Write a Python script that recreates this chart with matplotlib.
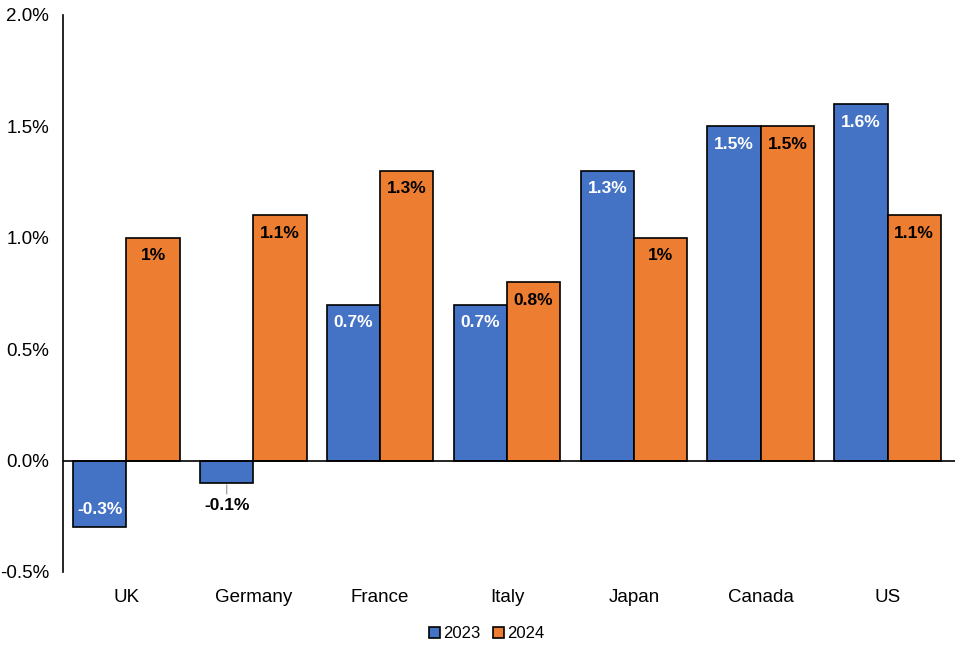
import matplotlib.pyplot as plt
import numpy as np

plt.rcParams['font.family'] = ['Liberation Sans', 'DejaVu Sans']

countries = ["UK", "Germany", "France", "Italy", "Japan", "Canada", "US"]
growth_2023 = [-0.3, -0.1, 0.7, 0.7, 1.3, 1.5, 1.6]
growth_2024 = [1.0, 1.1, 1.3, 0.8, 1.0, 1.5, 1.1]
labels_2023 = ["-0.3%", "-0.1%", "0.7%", "0.7%", "1.3%", "1.5%", "1.6%"]
labels_2024 = ["1%", "1.1%", "1.3%", "0.8%", "1%", "1.5%", "1.1%"]

blue = "#4472C4"
orange = "#ED7D31"

fig = plt.figure(figsize=(9.59, 6.47), dpi=100)
ax = fig.add_axes([0.0657, 0.116, 0.93, 0.861])

x = np.arange(len(countries))
w = 0.42
ax.bar(x - w / 2, growth_2023, w, color=blue, edgecolor="black", linewidth=1.2, label="2023", zorder=2)
ax.bar(x + w / 2, growth_2024, w, color=orange, edgecolor="black", linewidth=1.2, label="2024", zorder=2)

# data labels
lab_fs = 12.5
for i, (v, t) in enumerate(zip(growth_2023, labels_2023)):
    xi = x[i] - w / 2
    if v > 0:
        ax.annotate(t, (xi, v), xytext=(0, -13), textcoords="offset points",
                    ha="center", va="center", color="white", fontsize=lab_fs, fontweight="bold")
    elif v < -0.2:
        ax.annotate(t, (xi, v), xytext=(0, 13), textcoords="offset points",
                    ha="center", va="center", color="white", fontsize=lab_fs, fontweight="bold")
    else:
        ax.annotate(t, (xi, v), xytext=(0, -16), textcoords="offset points",
                    ha="center", va="center", color="black", fontsize=lab_fs, fontweight="bold")
        ax.annotate("", (xi, v), xytext=(0, -8), textcoords="offset points",
                    arrowprops=dict(arrowstyle="-", color="#A6A6A6", lw=1,
                                    shrinkA=0, shrinkB=1.5))

for i, (v, t) in enumerate(zip(growth_2024, labels_2024)):
    ax.annotate(t, (x[i] + w / 2, v), xytext=(0, -13), textcoords="offset points",
                ha="center", va="center", color="black", fontsize=lab_fs, fontweight="bold")

ax.axhline(0, color="black", linewidth=1.2, zorder=3)
ax.set_xlim(-0.5, 6.53)
ax.set_ylim(-0.5, 2.0)
ticks = np.arange(-0.5, 2.01, 0.5)
ax.set_yticks(ticks)
ax.set_yticklabels([f"{v:.1f}%" for v in ticks], fontsize=13.5)
ax.set_xticks(x)
ax.set_xticklabels(countries, fontsize=13.5)
ax.tick_params(axis="both", length=0)
ax.tick_params(axis="x", pad=12)
ax.tick_params(axis="y", pad=10)

for s in ["top", "right", "bottom"]:
    ax.spines[s].set_visible(False)
ax.spines["left"].set_linewidth(1.2)

ax.legend(loc="upper center", bbox_to_anchor=(0.475, -0.07), ncol=2, frameon=False,
          fontsize=12, handlelength=0.65, handleheight=0.65, handletextpad=0.15,
          columnspacing=0.8)

fig.savefig("out.png", dpi=100)
